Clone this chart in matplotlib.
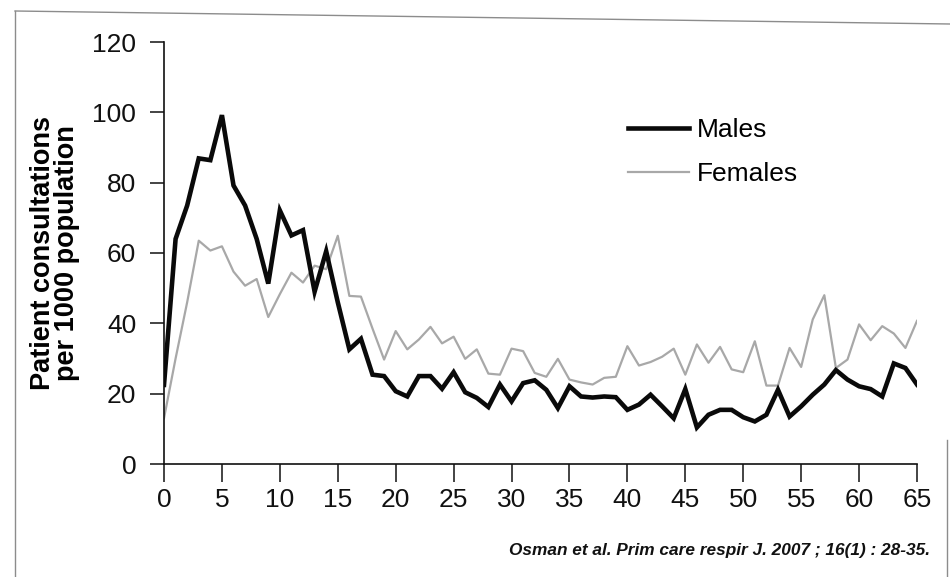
import matplotlib
matplotlib.use("Agg")
import matplotlib.pyplot as plt
from matplotlib.lines import Line2D

# age in years (0..65)
ages = list(range(0, 66))

males = [
    22.5, 64, 73.5, 86.9, 86.4, 99.2, 79.2, 73.5, 64, 51.3,
    72.1, 65, 66.5, 49, 60.5, 46, 32.6, 35.6, 25.4, 25,
    20.7, 19.2, 25, 25, 21.4, 26.1, 20.4, 18.8, 16.2, 22.6,
    17.8, 23, 23.8, 21.1, 15.9, 22.1, 19.2, 18.9, 19.2, 19,
    15.4, 16.9, 19.7, 16.4, 13, 21.3, 10.4, 14, 15.4, 15.4,
    13.3, 12.1, 14, 21.1, 13.5, 16.4, 19.7, 22.6, 26.7, 24,
    22.1, 21.3, 19.2, 28.6, 27.3, 22.6,
]

females = [
    13, 30, 46, 63.5, 60.7, 61.9, 54.7, 50.7, 52.6, 41.8,
    48.3, 54.4, 51.6, 56.4, 55.4, 64.9, 47.8, 47.6, 38.5, 29.7,
    37.8, 32.6, 35.4, 39, 34.3, 36.2, 29.9, 32.6, 25.7, 25.4,
    32.8, 32.1, 25.9, 24.8, 29.9, 24, 23.2, 22.6, 24.5, 24.8,
    33.5, 28, 29, 30.5, 32.8, 25.4, 34, 28.8, 33.3, 26.9,
    26.1, 34.9, 22.3, 22.3, 33, 27.6, 41.1, 48, 27.3, 29.7,
    39.7, 35.2, 39.2, 37.1, 33, 40.7,
]

x_ticks = list(range(0, 66, 5))
y_ticks = [0, 20, 40, 60, 80, 100, 120]

plt.rcParams["font.family"] = ["Liberation Sans", "DejaVu Sans"]

W, H = 950, 577
fig = plt.figure(figsize=(W / 100, H / 100), dpi=100)
ax = fig.add_axes([164 / W, 1 - 464 / H, (917 - 164) / W, (464 - 42) / H])

ax.plot(ages, females, color="#a8a8a8", linewidth=1.6, label="Females", zorder=2)
ax.plot(ages, males, color="#0a0a0a", linewidth=3.3, label="Males",
        solid_joinstyle="miter", zorder=3)

ax.set_xlim(0, 65)
ax.set_ylim(0, 120)
ax.set_xticks(x_ticks)
ax.set_yticks(y_ticks)
for side in ("top", "right"):
    ax.spines[side].set_visible(False)
for side in ("left", "bottom"):
    ax.spines[side].set_linewidth(1.2)
    ax.spines[side].set_color("#111111")
ax.tick_params(axis="y", length=10, width=1.1, pad=10, labelsize=19, colors="#111111")
ax.tick_params(axis="x", length=13, width=1.1, pad=4, labelsize=19, colors="#111111")

ax.set_ylabel("Patient consultations\nper 1000 population", fontsize=19.5,
              fontweight="bold", linespacing=0.9, labelpad=9)

handles, labels = ax.get_legend_handles_labels()
ax.legend(handles[::-1], labels[::-1], loc="upper left",
          bbox_to_anchor=(628 / W, 1 - 118 / H), bbox_transform=fig.transFigure,
          frameon=False, fontsize=19, handlelength=2.3, handletextpad=0.3,
          labelspacing=0.75, borderpad=0, borderaxespad=0)

fig.text(930 / W, 1 - 555 / H, "Osman et al. Prim care respir J. 2007 ; 16(1) : 28-35.",
         ha="right", va="baseline", fontsize=12.4, style="italic", fontweight="bold",
         color="#111111")

# faint scan frame around the figure
frame_kw = dict(color="#8c8c8c", linewidth=1.0, transform=fig.transFigure)
fig.add_artist(Line2D([15 / W, 15 / W], [0, 1 - 11 / H], **frame_kw))
fig.add_artist(Line2D([15 / W, 1], [1 - 11 / H, 1 - 24 / H], **frame_kw))
fig.add_artist(Line2D([947 / W, 947 / W], [0, 1 - 440 / H], **frame_kw))

fig.savefig("out.png", dpi=100, facecolor="white")
